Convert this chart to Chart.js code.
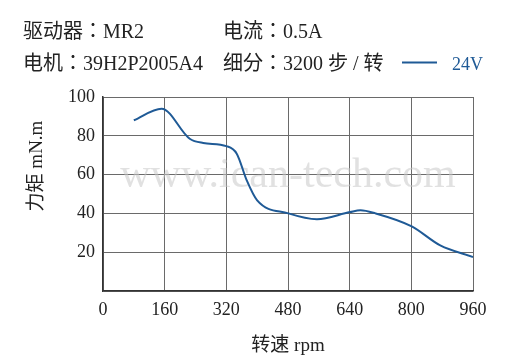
<!DOCTYPE html>
<html><head><meta charset="utf-8">
<script src="https://cdn.jsdelivr.net/npm/chart.js@4"></script>
<style>html,body{margin:0;padding:0;background:#fff}#wrap{width:520px;height:360px}</style>
</head><body><div id="wrap"><canvas id="c" width="520" height="360"></canvas></div>
<script>
const speedRpm = [80, 152, 225, 260, 320, 347, 373, 400, 481, 555, 641, 668, 707, 801, 875, 960];
const torque24V = [88, 94, 78.5, 76.3, 74.7, 70.8, 57, 46.7, 40, 37, 40.7, 41.6, 40, 33.3, 23.5, 17.5];
const xTicks = [0, 160, 320, 480, 640, 800, 960];
const yTicks = [20, 40, 60, 80, 100];
const seriesLabel = '24V';
const headerTexts = ['驱动器：MR2', '电流：0.5A', '电机：39H2P2005A4', '细分：3200 步 / 转'];
const xTitle = '转速 rpm';
const yTitle = '力矩 mN.m';
const watermark = 'www.ican-tech.com';

const FONT = '"Liberation Serif", "Noto Sans CJK JP", serif';
const BLUE = '#1f5a96';

const decor = {
  id: 'decor',
  beforeDatasetsDraw(chart) {
    const {ctx, chartArea: a} = chart;
    ctx.save();
    ctx.font = '42px ' + FONT;
    ctx.fillStyle = 'rgba(200,200,200,0.55)';
    ctx.textAlign = 'center';
    ctx.textBaseline = 'alphabetic';
    ctx.fillText(watermark, (a.left + a.right) / 2, 187);
    ctx.restore();
  },
  afterDraw(chart) {
    const {ctx, chartArea: a} = chart;
    ctx.save();
    ctx.fillStyle = '#222';
    ctx.font = '20px ' + FONT;
    ctx.textBaseline = 'alphabetic';
    ctx.textAlign = 'left';
    ctx.fillText(headerTexts[0], 23, 38);
    ctx.fillText(headerTexts[1], 223, 38);
    ctx.fillText(headerTexts[2], 23, 70);
    ctx.fillText(headerTexts[3], 223, 70);
    // legend
    const ds = chart.data.datasets[0];
    ctx.strokeStyle = ds.borderColor;
    ctx.lineWidth = 2;
    ctx.beginPath(); ctx.moveTo(402, 62.5); ctx.lineTo(437, 62.5); ctx.stroke();
    ctx.fillStyle = ds.borderColor;
    ctx.font = '18px ' + FONT;
    ctx.fillText(ds.label, 452, 70);
    // axis titles
    ctx.fillStyle = '#222';
    ctx.font = '19px ' + FONT;
    ctx.textAlign = 'center';
    ctx.fillText(xTitle, (a.left + a.right) / 2, 351);
    ctx.translate(42, 166);
    ctx.rotate(-Math.PI / 2);
    ctx.fillText(yTitle, 0, 0);
    ctx.restore();
  }
};

new Chart(document.getElementById('c'), {
  type: 'line',
  data: {
    datasets: [{
      label: seriesLabel,
      data: speedRpm.map((x, i) => ({x, y: torque24V[i]})),
      borderColor: BLUE,
      borderWidth: 2,
      pointRadius: 0,
      cubicInterpolationMode: 'monotone',
      fill: false
    }]
  },
  options: {
    responsive: false,
    animation: false,
    layout: {padding: {top: 97, right: 47, left: 0, bottom: 0}},
    plugins: {legend: {display: false}, title: {display: false}, tooltip: {enabled: false}},
    scales: {
      x: {
        type: 'linear', min: 0, max: 960,
        afterBuildTicks(s) { s.ticks = xTicks.map(v => ({value: v})); },
        afterFit(s) { s.height = 69; },
        grid: {color: '#6a6a6a', lineWidth: 1, drawTicks: false},
        border: {color: '#333', width: 1.5},
        ticks: {color: '#222', font: {family: FONT, size: 18}, padding: 8, maxRotation: 0}
      },
      y: {
        min: 0, max: 100,
        afterBuildTicks(s) { s.ticks = [0].concat(yTicks).map(v => ({value: v})); },
        afterFit(s) { s.width = 103; },
        grid: {color: '#6a6a6a', lineWidth: 1, drawTicks: false},
        border: {color: '#333', width: 1.5},
        ticks: {color: '#222', font: {family: FONT, size: 18}, padding: 8,
          callback: v => v === 0 ? '' : v}
      }
    }
  },
  plugins: [decor]
});
</script>
</body></html>
